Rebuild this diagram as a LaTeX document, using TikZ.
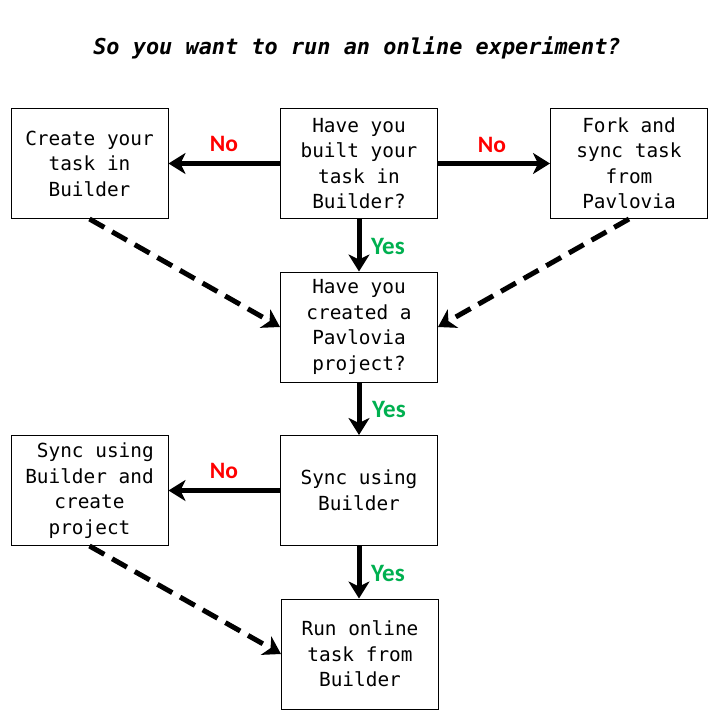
\documentclass[tikz,border=0pt]{standalone}
\usepackage{fontspec}
\usetikzlibrary{arrows.meta}
\newfontfamily\boxfont{DejaVu Sans Mono}
\newfontfamily\lblfont{Carlito}
\definecolor{nored}{RGB}{255,0,0}
\definecolor{yesgreen}{RGB}{0,176,80}
\begin{document}
\begin{tikzpicture}[x=1pt,y=-1pt,
  box/.style={draw,line width=1pt,rectangle,minimum width=157pt,minimum height=110pt,
    align=center,inner sep=0pt,font=\boxfont\fontsize{19.4}{25.5}\selectfont},
  solidarrow/.style={line width=5pt,-{Stealth[length=17pt,width=21pt,inset=5pt]}},
  dasharrow/.style={line width=5pt,dash pattern=on 17pt off 9pt,-{Stealth[length=17pt,width=21pt,inset=5pt]}},
  nolbl/.style={text=nored,font=\lblfont\bfseries\fontsize{23.5}{26}\selectfont},
  yeslbl/.style={text=yesgreen,font=\lblfont\bfseries\fontsize{25}{28}\selectfont}]
\useasboundingbox[fill=white] (0,0) rectangle (720,720);
\node (title) at (357,48) {\boxfont\bfseries\itshape\fontsize{21.9}{24}\selectfont So you want to run an online experiment?};
\node[box] (b1) at (89.5,163.5) {Create your\\task in\\Builder};
\node[box] (b2) at (359,163.5) {Have you\\built your\\task in\\Builder?};
\node[box] (b3) at (629,163.5) {Fork and\\sync task\\from\\Pavlovia};
\node[box] (b4) at (359,327) {Have you\\created a\\Pavlovia\\project?};
\node[box] (b5) at (89.5,490.5) {\hphantom{S}Sync using\\Builder and\\create\\project};
\node[box] (b6) at (359,490.5) {Sync using\\Builder};
\node[box] (b7) at (360,654) {Run online\\task from\\Builder};
\draw[solidarrow] (b2.west) -- (b1.east);
\draw[solidarrow] (b2.east) -- (b3.west);
\draw[solidarrow] (b2.south) -- (b4.north);
\draw[solidarrow] (b4.south) -- (b6.north);
\draw[solidarrow] (b6.west) -- (b5.east);
\draw[solidarrow] (b6.south) -- (b7.north -| b6.south);
\draw[dasharrow] (b1.south) -- (b4.west);
\draw[dasharrow] (b3.south) -- (b4.east);
\draw[dasharrow] (b5.south) -- (b7.west);
\node[nolbl] (n1) at (224,144) {No};
\node[nolbl] (n2) at (492,145) {No};
\node[nolbl] (n3) at (224,471) {No};
\node[yeslbl] (y1) at (388,246) {Yes};
\node[yeslbl] (y2) at (389,409) {Yes};
\node[yeslbl] (y3) at (388,573) {Yes};
\end{tikzpicture}
\end{document}
